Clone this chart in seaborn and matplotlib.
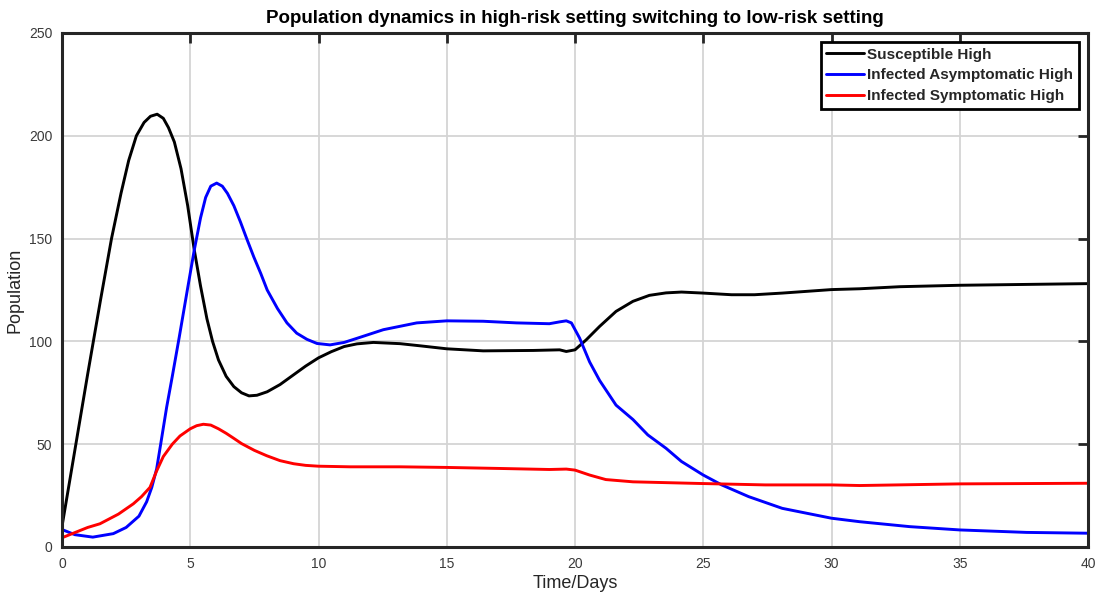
import numpy as np
import pandas as pd
import matplotlib
matplotlib.use("Agg")
import matplotlib.pyplot as plt
import seaborn as sns

# ---- data ----
t_S = [0, 0.5, 1.0, 1.5, 1.93, 2.3, 2.6, 2.9, 3.2, 3.45, 3.71, 3.95, 4.15, 4.38, 4.64,
       4.9, 5.15, 5.4, 5.65, 5.87, 6.1, 6.4, 6.7, 7.0, 7.29, 7.6, 8.0, 8.5, 9.0, 9.5,
       10.0, 10.5, 11.0, 11.5, 12.14, 13.18, 14.0, 15, 16.42, 18.37, 19.4, 19.66, 20,
       20.44, 20.96, 21.6, 22.26, 22.9, 23.55, 24.15, 25, 26.1, 27.0, 28.08, 30, 31.1,
       32.66, 35, 40]
S = [10, 47, 84, 120, 150, 172, 188, 200, 206.5, 209.5, 210.5, 208.5, 204, 197, 184,
     166, 145, 127, 111, 100, 91, 83, 78, 75, 73.5, 73.8, 75.5, 79, 83.5, 88,
     92, 95, 97.5, 98.8, 99.5, 98.9, 97.8, 96.4, 95.4, 95.6, 95.9, 95.1, 95.9,
     100.8, 107.3, 114.6, 119.5, 122.4, 123.6, 124, 123.5, 122.7, 122.7, 123.5, 125.2, 125.6,
     126.6, 127.3, 128.1]

t_A = [0, 0.5, 1.2, 2.0, 2.5, 3.0, 3.3, 3.5, 3.69, 3.86, 4.08, 4.3, 4.57, 4.9, 5.15,
       5.4, 5.6, 5.8, 6.03, 6.25, 6.45, 6.7, 6.96, 7.2, 7.48, 7.75, 8.0, 8.4, 8.77,
       9.15, 9.55, 9.94, 10.45, 11.0, 11.5, 12.53, 13.83, 15, 16.42, 17.72, 19.0,
       19.4, 19.66, 19.86, 20.18, 20.57, 20.96, 21.6, 22.26, 22.84, 23.55, 24.15, 25,
       25.72, 26.77, 28.08, 30, 31.1, 33.05, 35, 37.6, 40]
A = [8.5, 6.0, 4.8, 6.5, 9.5, 15, 22, 29, 38, 51, 68, 83, 102, 126, 144,
     160, 170, 175.5, 177, 175.5, 172, 166, 158, 150, 141, 133, 125, 116, 109,
     104, 101, 99, 98.3, 99.5, 101.5, 105.7, 109, 110, 109.8, 109, 108.6,
     109.5, 110, 109, 101.6, 90, 81, 69, 62, 54.5, 48, 41.6, 35,
     30.2, 24.5, 18.8, 14, 12.3, 9.9, 8.3, 7.1, 6.7]

t_I = [0, 0.5, 1.0, 1.48, 2.2, 2.78, 3.1, 3.43, 3.69, 3.95, 4.3, 4.6, 5.0, 5.25, 5.51,
       5.8, 6.1, 6.4, 6.68, 7.0, 7.5, 7.98, 8.5, 9.03, 9.5, 10.0, 11.23, 13.18, 15,
       17.07, 19.0, 19.66, 20, 20.57, 21.2, 22.26, 24.85, 27.42, 30, 31.1, 35, 40]
I = [4.5, 7, 9.5, 11.3, 16, 21, 24.5, 29, 37, 44, 50, 54, 57.5, 59, 59.7,
     59.3, 57.5, 55.3, 53, 50.3, 47, 44.4, 42, 40.5, 39.7, 39.3, 39, 39, 38.7,
     38.2, 37.7, 37.9, 37.4, 35, 32.8, 31.7, 30.9, 30.2, 30.2, 29.9, 30.7, 31]

labels = ["Susceptible High", "Infected Asymptomatic High", "Infected Symptomatic High"]
colors = ["#000000", "#0000ff", "#ff0000"]
x_ticks = [0, 5, 10, 15, 20, 25, 30, 35, 40]
y_ticks = [0, 50, 100, 150, 200, 250]

df = pd.concat([
    pd.DataFrame({"t": t_S, "v": S, "series": labels[0]}),
    pd.DataFrame({"t": t_A, "v": A, "series": labels[1]}),
    pd.DataFrame({"t": t_I, "v": I, "series": labels[2]}),
], ignore_index=True)

sns.set_style("whitegrid")
plt.rcParams["font.family"] = ["Liberation Sans", "DejaVu Sans"]

fig = plt.figure(figsize=(10.99, 5.96), dpi=100)
ax = fig.add_axes([62 / 1099, 1 - 547 / 596, (1088 - 62) / 1099, (547 - 33) / 596])

sns.lineplot(data=df, x="t", y="v", hue="series", hue_order=labels,
             palette=dict(zip(labels, colors)), linewidth=2.1, ax=ax,
             sort=False, estimator=None)
for ln in ax.get_lines():
    ln.set_solid_joinstyle("round")
    ln.set_solid_capstyle("round")

ax.set_xlim(0, 40)
ax.set_ylim(0, 250)
ax.set_xticks(x_ticks)
ax.set_yticks(y_ticks)
ax.grid(True, color="#d4d4d4", linewidth=1.3)
for sp in ax.spines.values():
    sp.set_color("#262626")
    sp.set_linewidth(2.2)
    sp.set_visible(True)
ax.tick_params(direction="in", length=7, width=2, color="#262626",
               top=True, right=True, labelsize=10, labelcolor="#3a3a3a", pad=7)

ax.set_xlabel("Time/Days", fontsize=13, color="#262626", labelpad=3)
ax.set_ylabel("Population", fontsize=13, color="#262626", labelpad=4)
ax.set_title("Population dynamics in high-risk setting switching to low-risk setting",
             fontsize=13.5, fontweight="bold", color="#000000", pad=7)

leg = ax.legend(loc="upper right", frameon=True, fancybox=False,
                borderaxespad=0.6, handlelength=2.5, handletextpad=0.2,
                labelspacing=0.45, borderpad=0.35, prop={"weight": "bold", "size": 11})
leg.get_frame().set_edgecolor("#000000")
leg.get_frame().set_linewidth(2.0)
leg.get_frame().set_facecolor("white")
leg.get_frame().set_alpha(1)

fig.savefig("out.png", dpi=100, facecolor="white")
